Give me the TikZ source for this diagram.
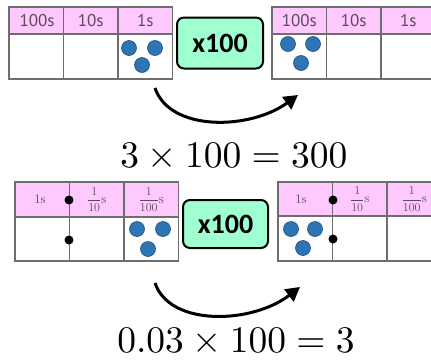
\documentclass[tikz,border=0pt]{standalone}
\usepackage{fontspec}
\usepackage{graphicx}
\newfontfamily\labelfont{PT Sans}
\newfontfamily\boxfont{Carlito}
\usetikzlibrary{arrows.meta}

\definecolor{headpink}{HTML}{FFC8FF}
\definecolor{boxgreen}{HTML}{A0FFD0}
\definecolor{ballblue}{HTML}{2E75B6}
\definecolor{balledge}{HTML}{1F4E79}
\definecolor{gridgray}{HTML}{6E6E6E}
\definecolor{labelgray}{HTML}{5A4A5A}

% place-value grid: left x, top y, header height, body height
\newcommand\valuegrid[4]{%
  \fill[headpink] (#1,#2) rectangle ++(163.5,#3);
  \draw[grid line] (#1,#2) rectangle ++(163.5,#3+#4);
  \draw[grid line] (#1,#2+#3) -- ++(163.5,0);
  \draw[grid line] (#1+54.5,#2) -- ++(0,#3+#4);
  \draw[grid line] (#1+109,#2) -- ++(0,#3+#4);
}
% large equation set from 10pt math
\newcommand\bigeq[1]{\scalebox{3.75}{$#1$}}

\begin{document}
\begin{tikzpicture}[x=1pt,y=-1pt,
  grid line/.style={draw=gridgray,line width=1.5pt},
  ball/.style={circle,fill=ballblue,draw=balledge,line width=0.6pt,minimum size=15pt,inner sep=0pt},
  marker/.style={circle,fill=black,minimum size=9pt,inner sep=0pt},
  headlabel/.style={font=\labelfont\fontsize{17}{17}\selectfont,text=labelgray,inner sep=0pt},
  fraclabel/.style={font=\fontsize{13}{13}\selectfont,text=labelgray,inner sep=0pt},
  multbox/.style={draw=black,line width=2pt,rounded corners=7pt,fill=boxgreen,
    font=\boxfont\bfseries\fontsize{28}{28}\selectfont,inner sep=0pt},
  swoop/.style={line width=3pt,-{Triangle[length=14pt,width=15pt]}},
  equation/.style={anchor=base,inner sep=0pt}
]
\useasboundingbox (0,0) rectangle (431,359);
\clip (0,0) rectangle (431,359);

% ---------- whole numbers ----------
\valuegrid{9}{7}{27}{45}
\valuegrid{272}{7}{27}{45}

\node[headlabel] (h100a) at (37,20.5) {100s};
\node[headlabel] (h10a)  at (90.75,20.5) {10s};
\node[headlabel] (h1a)   at (145.25,20.5) {1s};
\node[headlabel] (h100b) at (299.25,20.5) {100s};
\node[headlabel] (h10b)  at (353.75,20.5) {10s};
\node[headlabel] (h1b)   at (408.25,20.5) {1s};

\node[ball] (ta1) at (129,48) {};
\node[ball] (ta2) at (155,48) {};
\node[ball] (ta3) at (142,65) {};
\node[ball] (tb1) at (288,44) {};
\node[ball] (tb2) at (313,44) {};
\node[ball] (tb3) at (301,63) {};

\node[multbox,minimum width=86pt,minimum height=51pt] (boxtop) at (220,43) {x100};

\coordinate (s1) at (155,88);
\coordinate (e1) at (298,95);
\draw[swoop] (s1) .. controls (170,132) and (250,130) .. (e1);

\node[equation] (eqtop) at (234,167) {\bigeq{3\times 100=300}};

% ---------- decimals ----------
\valuegrid{15}{182}{35}{44}
\valuegrid{278}{182}{34}{45}

\node[fraclabel] (d1a)   at (40,199.5) {1s};
\node[fraclabel] (d10a)  at (96.75,199.5) {$\displaystyle\frac{1}{10}$s};
\node[fraclabel] (d100a) at (151.25,199.5) {$\displaystyle\frac{1}{100}$s};
\node[fraclabel] (d1b)   at (301,199) {1s};
\node[fraclabel] (d10b)  at (359.75,199) {$\displaystyle\frac{1}{10}$s};
\node[fraclabel] (d100b) at (414.25,199) {$\displaystyle\frac{1}{100}$s};

\node[marker] (pa1) at (69,200) {};
\node[marker] (pa2) at (69,240) {};
\node[marker] (pb1) at (333,200) {};
\node[marker] (pb2) at (333,239) {};

\node[ball] (ba1) at (137,229) {};
\node[ball] (ba2) at (163,229) {};
\node[ball] (ba3) at (148,249) {};
\node[ball] (bb1) at (291,229) {};
\node[ball] (bb2) at (315,229) {};
\node[ball] (bb3) at (303,248) {};

\node[multbox,minimum width=85pt,minimum height=48pt] (boxbot) at (225.5,224) {x100};

\coordinate (s2) at (155,283);
\coordinate (e2) at (300,287);
\draw[swoop] (s2) .. controls (170,327) and (252,324) .. (e2);

\node[equation] (eqbot) at (236,352) {\bigeq{0.03\times 100=3}};
\end{tikzpicture}
\end{document}
